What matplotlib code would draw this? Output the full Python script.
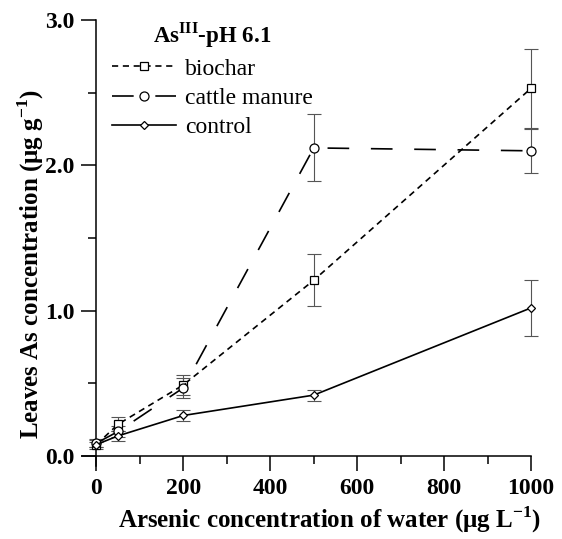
import matplotlib
matplotlib.use("Agg")
import matplotlib.pyplot as plt
from matplotlib.ticker import MultipleLocator

plt.rcParams['font.family'] = ['Liberation Serif', 'DejaVu Serif']
plt.rcParams['mathtext.fontset'] = 'custom'
plt.rcParams['mathtext.rm'] = 'Liberation Serif'
plt.rcParams['mathtext.bf'] = 'Liberation Serif:bold'

# === Data ===
conc = [0, 50, 200, 500, 1000]

biochar = [0.08, 0.22, 0.49, 1.21, 2.53]
biochar_err = [0.03, 0.05, 0.07, 0.18, 0.27]

manure = [0.09, 0.17, 0.47, 2.12, 2.10]
manure_err = [0.03, 0.04, 0.07, 0.23, 0.15]

control = [0.08, 0.14, 0.28, 0.42, 1.02]
control_err = [0.02, 0.035, 0.04, 0.037, 0.19]

labels = ['biochar', 'cattle manure', 'control']

# === Plot ===
fig = plt.figure(figsize=(5.62, 5.39), dpi=100)
ax = fig.add_axes([0.146, 0.135, 0.799, 0.828])

lw = 1.2
err_kw = dict(fmt='none', ecolor='#555555', elinewidth=0.8, capsize=5, capthick=0.8, zorder=2)

for y, e in [(biochar, biochar_err), (manure, manure_err), (control, control_err)]:
    eb = ax.errorbar(conc, y, yerr=e, **err_kw)
    for part in eb.lines[1] + eb.lines[2]:
        part.set_clip_on(False)

ax.plot(conc, biochar, color='black', lw=lw, dashes=(3.7, 2.8), marker='s', ms=6,
        mfc='white', mec='black', mew=0.9, label=labels[0], zorder=3, clip_on=False)
ax.plot(conc, manure, color='black', lw=lw, dashes=(13, 13), marker='o', ms=6.5,
        mfc='white', mec='black', mew=0.9, label=labels[1], zorder=3, clip_on=False)
ax.plot(conc, control, color='black', lw=lw, marker='D', ms=4.5,
        mfc='white', mec='black', mew=0.9, label=labels[2], zorder=3, clip_on=False)

# === Axes styling ===
ax.set_xlim(-33, 1000)
ax.set_ylim(-0.069, 3.0)
ax.spines['left'].set_position(('data', 0))
ax.spines['bottom'].set_position(('data', 0))
ax.spines['right'].set_visible(False)
ax.spines['top'].set_visible(False)
for s in ['left', 'bottom']:
    ax.spines[s].set_linewidth(1.1)

ax.xaxis.set_major_locator(MultipleLocator(200))
ax.xaxis.set_minor_locator(MultipleLocator(100))
ax.yaxis.set_major_locator(MultipleLocator(1.0))
ax.yaxis.set_minor_locator(MultipleLocator(0.5))
ax.tick_params(which='major', direction='out', length=10.5, width=1.1, pad=5, labelsize=17)
ax.tick_params(which='minor', direction='out', length=5.5, width=1.1)
ax.set_yticks([0, 1, 2, 3])
ax.set_yticklabels(['0.0', '1.0', '2.0', '3.0'])
for t in ax.get_xticklabels() + ax.get_yticklabels():
    t.set_fontweight('bold')

ax.set_xlabel(r'Arsenic concentration of water ($\mathbf{\mu}$g L$^{\mathbf{-1}}$)',
              fontsize=18, fontweight='bold')
ax.set_ylabel(r'Leaves As concentration ($\mathbf{\mu}$g g$^{\mathbf{-1}}$)',
              fontsize=18, fontweight='bold')
ax.xaxis.set_label_coords(0.55, -0.085)
ax.yaxis.set_label_coords(-0.08, 0.453)

leg = ax.legend(loc='upper left', bbox_to_anchor=(0.035, 1.03), frameon=False,
                fontsize=17, handlelength=2.7, handletextpad=0.4, labelspacing=0.33,
                numpoints=1, title=r'As$^{\mathbf{III}}$-pH 6.1', borderaxespad=0.2)
leg.get_title().set_fontweight('bold')
leg.get_title().set_fontsize(16.5)

fig.savefig('out.png', dpi=100)
